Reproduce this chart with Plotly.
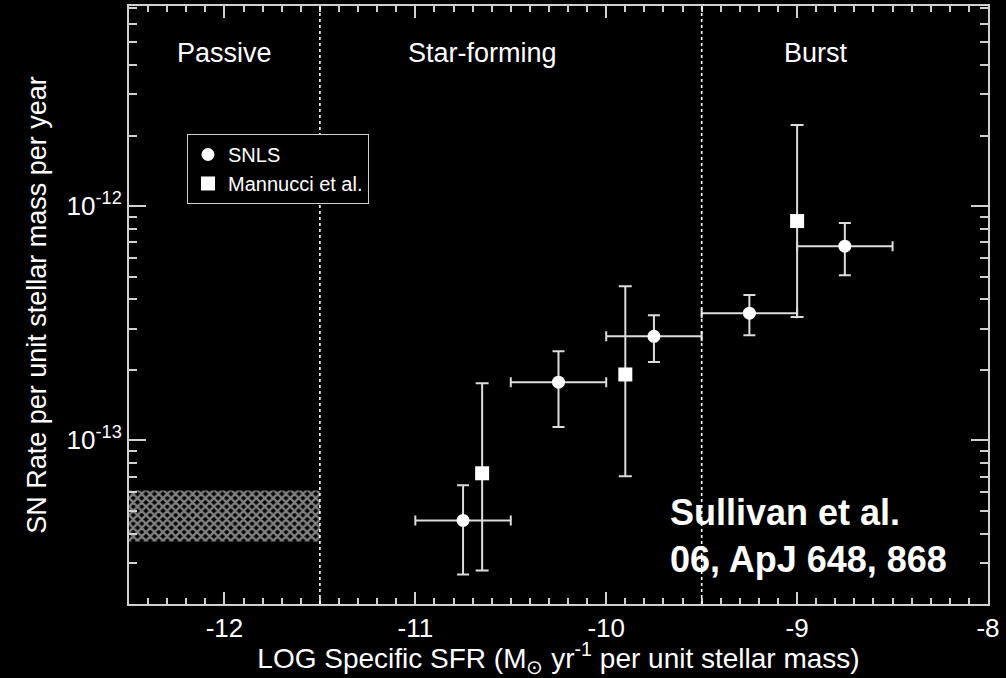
import math
import plotly.graph_objects as go

# SNLS rates (binned in log specific SFR)
snls_x = [-10.75, -10.25, -9.75, -9.25, -8.75]
snls_x_lo = [-11.0, -10.5, -10.0, -9.5, -9.0]
snls_x_hi = [-10.5, -10.0, -9.5, -9.0, -8.5]
snls_rate = [4.55e-14, 1.77e-13, 2.78e-13, 3.49e-13, 6.74e-13]
snls_rate_lo = [2.67e-14, 1.14e-13, 2.16e-13, 2.81e-13, 5.07e-13]
snls_rate_hi = [6.43e-14, 2.40e-13, 3.42e-13, 4.17e-13, 8.46e-13]

# Mannucci et al. rates
mann_x = [-10.65, -9.9, -9.0]
mann_rate = [7.23e-14, 1.91e-13, 8.63e-13]
mann_rate_lo = [2.78e-14, 7.02e-14, 3.36e-13]
mann_rate_hi = [1.75e-13, 4.55e-13, 2.22e-12]

# Passive galaxies: rate band
passive_x = [-12.5, -11.5]
passive_rate_band = [3.7e-14, 6.1e-14]

# Region boundaries and labels
boundaries = [-11.5, -9.5]
region_names = ["Passive", "Star-forming", "Burst"]
region_x = [-12.0, -10.65, -8.9]

x_range = [-12.5, -8.0]
x_major = [-12, -11, -10, -9, -8]
x_major_text = ["-12", "-11", "-10", "-9", "-8"]
y_range = [2.0e-14, 7.15e-12]
y_major = [1e-13, 1e-12]
y_major_text = ["10<sup>-13</sup>", "10<sup>-12</sup>"]
y_minor = [m * 10.0 ** e for e in (-14, -13, -12) for m in range(2, 10)
           if y_range[0] <= m * 10.0 ** e <= y_range[1]]

FONT = "Liberation Sans, Arial, Helvetica, sans-serif"
AX = "#d0d0d0"
ERR = "#dcdcdc"

fig = go.Figure()

# hatched band for passive hosts
fig.add_trace(go.Scatter(
    x=[passive_x[0], passive_x[1], passive_x[1], passive_x[0], passive_x[0]],
    y=[passive_rate_band[0], passive_rate_band[0], passive_rate_band[1],
       passive_rate_band[1], passive_rate_band[0]],
    mode="lines", line=dict(width=0, color="black"),
    fill="toself", fillcolor="black",
    fillpattern=dict(shape="x", fgcolor="white", bgcolor="black",
                     size=6, solidity=0.65),
    showlegend=False, hoverinfo="skip",
))

fig.add_trace(go.Scatter(
    x=snls_x, y=snls_rate, mode="markers", name="SNLS",
    marker=dict(symbol="circle", size=13, color="white",
                line=dict(width=0)),
    error_y=dict(type="data", symmetric=False,
                 array=[h - v for h, v in zip(snls_rate_hi, snls_rate)],
                 arrayminus=[v - l for l, v in zip(snls_rate_lo, snls_rate)],
                 color=ERR, thickness=2, width=6),
    error_x=dict(type="data", symmetric=False,
                 array=[h - v for h, v in zip(snls_x_hi, snls_x)],
                 arrayminus=[v - l for l, v in zip(snls_x_lo, snls_x)],
                 color=ERR, thickness=2, width=5),
))

fig.add_trace(go.Scatter(
    x=mann_x, y=mann_rate, mode="markers", name="Mannucci et al.",
    marker=dict(symbol="square", size=14, color="white",
                line=dict(width=0)),
    error_y=dict(type="data", symmetric=False,
                 array=[h - v for h, v in zip(mann_rate_hi, mann_rate)],
                 arrayminus=[v - l for l, v in zip(mann_rate_lo, mann_rate)],
                 color=ERR, thickness=2, width=6.5),
))

for b in boundaries:
    fig.add_shape(type="line", xref="x", yref="paper", x0=b, x1=b, y0=0, y1=1,
                  line=dict(color="white", width=1.6, dash="dot"))

for name, xv in zip(region_names, region_x):
    fig.add_annotation(x=xv, y=math.log10(4.5e-12), text=name, showarrow=False,
                       font=dict(family=FONT, size=27, color="white"))

fig.add_annotation(
    xref="paper", yref="paper", x=0.627, y=0.19, xanchor="left", yanchor="top",
    align="left", showarrow=False,
    text="<b>Sullivan et al.<br>06, ApJ 648, 868</b>",
    font=dict(family=FONT, size=36, color="white"),
)

fig.update_xaxes(
    range=x_range, showline=True, linecolor=AX, linewidth=2, mirror="ticks",
    ticks="inside", tickcolor=AX, ticklen=12, tickwidth=1.5,
    showgrid=False, zeroline=False, automargin=False,
    tickvals=x_major, ticktext=x_major_text,
    minor=dict(ticks="inside", dtick=0.1, tick0=-12, ticklen=6,
               tickcolor=AX, tickwidth=1.5, showgrid=False),
    tickfont=dict(family=FONT, size=26, color="white"),
    title=dict(text="LOG Specific SFR (M<sub>\u2299</sub> yr<sup>-1</sup> per unit stellar mass)",
               font=dict(family=FONT, size=28, color="white"), standoff=2),
)

fig.update_yaxes(
    type="log", range=[math.log10(y_range[0]), math.log10(y_range[1])],
    showline=True, linecolor=AX, linewidth=2, mirror="ticks",
    ticks="inside", tickcolor=AX, ticklen=17, tickwidth=1.5,
    tickvals=y_major, ticktext=y_major_text, showgrid=False, zeroline=False,
    automargin=False,
    minor=dict(ticks="inside", tickvals=y_minor, ticklen=8,
               tickcolor=AX, tickwidth=1.5, showgrid=False),
    tickfont=dict(family=FONT, size=26, color="white"),
    title=dict(text="SN Rate per unit stellar mass per year",
               font=dict(family=FONT, size=27, color="white"), standoff=12),
)

fig.update_layout(
    width=1006, height=678,
    margin=dict(l=129, r=18, t=6, b=74),
    paper_bgcolor="black", plot_bgcolor="black",
    font=dict(family=FONT, color="white"),
    legend=dict(x=0.0675, y=0.786, xanchor="left", yanchor="top",
                bgcolor="black", bordercolor=AX, borderwidth=1,
                font=dict(family=FONT, size=20, color="white"),
                tracegroupgap=0, itemwidth=30),
)

fig.write_html("out.html")
